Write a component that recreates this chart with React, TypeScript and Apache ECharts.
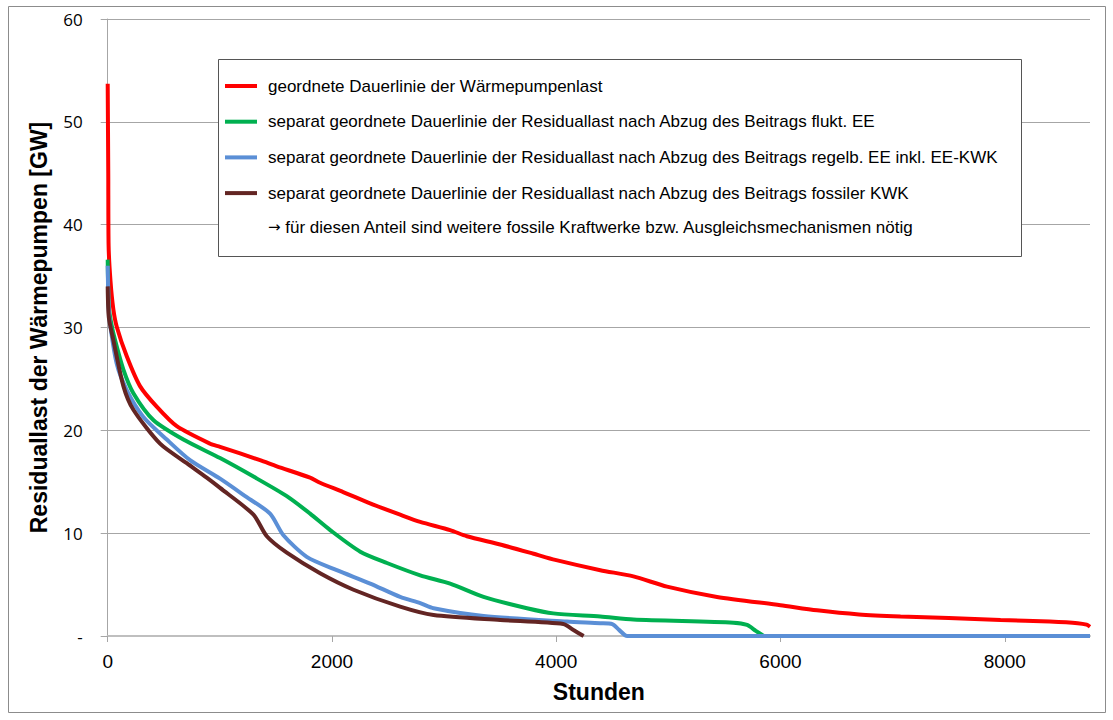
import React, { useEffect, useRef } from "react";
import * as echarts from "echarts";

// Duration curves: [hour, GW]
const heatPumpLoad: [number, number][] = [
  [0, 53.7], [5, 45], [8, 38], [25, 34.5], [50, 31.8], [80, 30.1], [170, 27.2], [288, 24.3],
  [437, 22.3], [616, 20.4], [913, 18.7], [1002, 18.4], [1359, 17.1], [1508, 16.5], [1805, 15.4],
  [1894, 14.9], [2100, 14.0], [2340, 12.9], [2608, 11.8], [2787, 11.1], [3054, 10.3], [3203, 9.7],
  [3500, 8.9], [3798, 8.0], [3991, 7.4], [4393, 6.4], [4688, 5.8], [4988, 4.8], [5434, 3.8],
  [5999, 3.0], [6326, 2.5], [6700, 2.1], [7070, 1.9], [7500, 1.75], [7962, 1.56], [8400, 1.4],
  [8650, 1.25], [8730, 1.1], [8760, 0.9],
];
const afterFluctRE: [number, number][] = [
  [0, 36.6], [10, 32], [30, 30.5], [65, 28.8], [140, 25.9], [229, 23.6], [407, 21.0], [675, 19.1],
  [1002, 17.3], [1300, 15.5], [1597, 13.6], [1805, 11.9], [1984, 10.3], [2252, 8.2], [2490, 7.1],
  [2787, 5.9], [3054, 5.1], [3352, 3.8], [3739, 2.7], [3974, 2.2], [4393, 1.9], [4688, 1.6],
  [5580, 1.3], [5702, 1.07], [5780, 0.5], [5850, 0],
];
const afterControllableRE: [number, number][] = [
  [0, 36], [8, 32], [20, 30.4], [80, 26.5], [170, 23.9], [318, 21.3], [527, 19.1], [734, 17.1],
  [1002, 15.3], [1240, 13.5], [1448, 11.9], [1567, 9.8], [1775, 7.7], [2043, 6.4], [2341, 5.1],
  [2608, 3.8], [2787, 3.2], [2906, 2.7], [3352, 1.95], [4096, 1.4], [4393, 1.24], [4500, 1.15],
  [4560, 0.6], [4632, 0], [8760, 0],
];
const afterFossilCHP: [number, number][] = [
  [0, 34], [10, 31], [50, 28.8], [140, 24.3], [229, 22.0], [467, 18.7], [705, 16.8], [883, 15.4],
  [1002, 14.4], [1300, 11.8], [1419, 9.7], [1597, 8.1], [1894, 6.1], [2192, 4.5], [2608, 2.85],
  [2906, 2.04], [3500, 1.56], [4063, 1.17], [4150, 0.6], [4244, 0],
];

const seriesNames = [
  "geordnete Dauerlinie der Wärmepumpenlast",
  "separat geordnete Dauerlinie der Residuallast nach Abzug des Beitrags flukt. EE",
  "separat geordnete Dauerlinie der Residuallast nach Abzug des Beitrags regelb. EE inkl. EE-KWK",
  "separat geordnete Dauerlinie der Residuallast nach Abzug des Beitrags fossiler KWK",
];
const noteText = "für diesen Anteil sind weitere fossile Kraftwerke bzw. Ausgleichsmechanismen nötig";
const xTicks = [0, 2000, 4000, 6000, 8000];
const colors = ["#ff0000", "#00b050", "#5b8fd6", "#632523"];

export default function App() {
  const ref = useRef<HTMLDivElement>(null);
  useEffect(() => {
    if (!ref.current) return;
    const chart = echarts.init(ref.current, null, { renderer: "svg" });
    const datas = [heatPumpLoad, afterFluctRE, afterControllableRE, afterFossilCHP];
    chart.setOption({
      animation: false,
      backgroundColor: "#ffffff",
      grid: { left: 107.7, right: 23, top: 19, bottom: 84, containLabel: false },
      graphic: [
        {
          type: "rect",
          shape: { x: 8.5, y: 6.5, width: 1097, height: 706 },
          style: { fill: "none", stroke: "#8c8c8c", lineWidth: 1 },
          z: -1,
        },
        {
          type: "rect",
          shape: { x: 218.5, y: 59.5, width: 803, height: 197 },
          style: { fill: "#ffffff", stroke: "#555555", lineWidth: 1 },
          z: 10,
        },
        {
          type: "text",
          x: 268,
          y: 227,
          style: {
            text: "{a|→} " + noteText,
            fill: "#000",
            font: "17px 'Liberation Sans', Arial, sans-serif",
            verticalAlign: "middle",
            rich: {
              a: { fontFamily: "'DejaVu Sans', sans-serif", fontSize: 15, fill: "#000" },
            },
          },
          z: 11,
        },
      ],
      legend: {
        show: true,
        orient: "vertical",
        left: 225,
        top: 76,
        padding: 0,
        itemGap: 15.7,
        itemWidth: 32,
        itemHeight: 4,
        icon: "rect",
        z: 12,
        textStyle: {
          fontFamily: "'Liberation Sans', Arial, sans-serif",
          fontSize: 17,
          lineHeight: 20,
          color: "#000",
          padding: [0, 0, 0, 6],
        },
        data: seriesNames,
      },
      xAxis: {
        type: "value",
        min: 0,
        max: 8760,
        interval: 2000,
        name: "Stunden",
        nameLocation: "middle",
        nameGap: 44,
        nameTextStyle: {
          fontFamily: "'Liberation Sans', Arial, sans-serif",
          fontWeight: "bold",
          fontSize: 23,
          color: "#000",
        },
        axisLine: { show: true, lineStyle: { color: "#bfbfbf", width: 2 } },
        axisTick: {
          show: true,
          length: 6,
          customValues: xTicks,
          lineStyle: { color: "#a6a6a6" },
        },
        axisLabel: {
          customValues: xTicks,
          margin: 16,
          fontFamily: "'Liberation Sans', Arial, sans-serif",
          fontSize: 19,
          color: "#000",
          formatter: (v: number) => String(v),
        },
        splitLine: { show: false },
      },
      yAxis: {
        type: "value",
        min: 0,
        max: 60,
        interval: 10,
        name: "Residuallast der Wärmepumpen [GW]",
        nameLocation: "middle",
        nameGap: 57,
        nameTextStyle: {
          fontFamily: "'Liberation Sans', Arial, sans-serif",
          fontWeight: "bold",
          fontSize: 23,
          color: "#000",
        },
        axisLine: { show: true, lineStyle: { color: "#a6a6a6", width: 1 } },
        axisTick: { show: true, length: 7, lineStyle: { color: "#a6a6a6" } },
        axisLabel: {
          margin: 25,
          fontFamily: "'Open Sans', 'DejaVu Sans', sans-serif",
          fontSize: 17,
          color: "#000",
          formatter: (v: number) => (v === 0 ? "-" : String(v)),
        },
        splitLine: { show: true, lineStyle: { color: "#a6a6a6", width: 1 } },
      },
      series: datas.map((d, i) => ({
        name: seriesNames[i],
        type: "line",
        data: d,
        showSymbol: false,
        symbol: "none",
        smooth: 0.25,
        color: colors[i],
        lineStyle: { color: colors[i], width: 4 },
        itemStyle: { color: colors[i] },
        z: 2 + i,
      })),
    });
    return () => chart.dispose();
  }, []);
  return (
    <div
      ref={ref}
      style={{ position: "fixed", left: 0, top: 0, width: 1113, height: 720, background: "#fff" }}
    />
  );
}
